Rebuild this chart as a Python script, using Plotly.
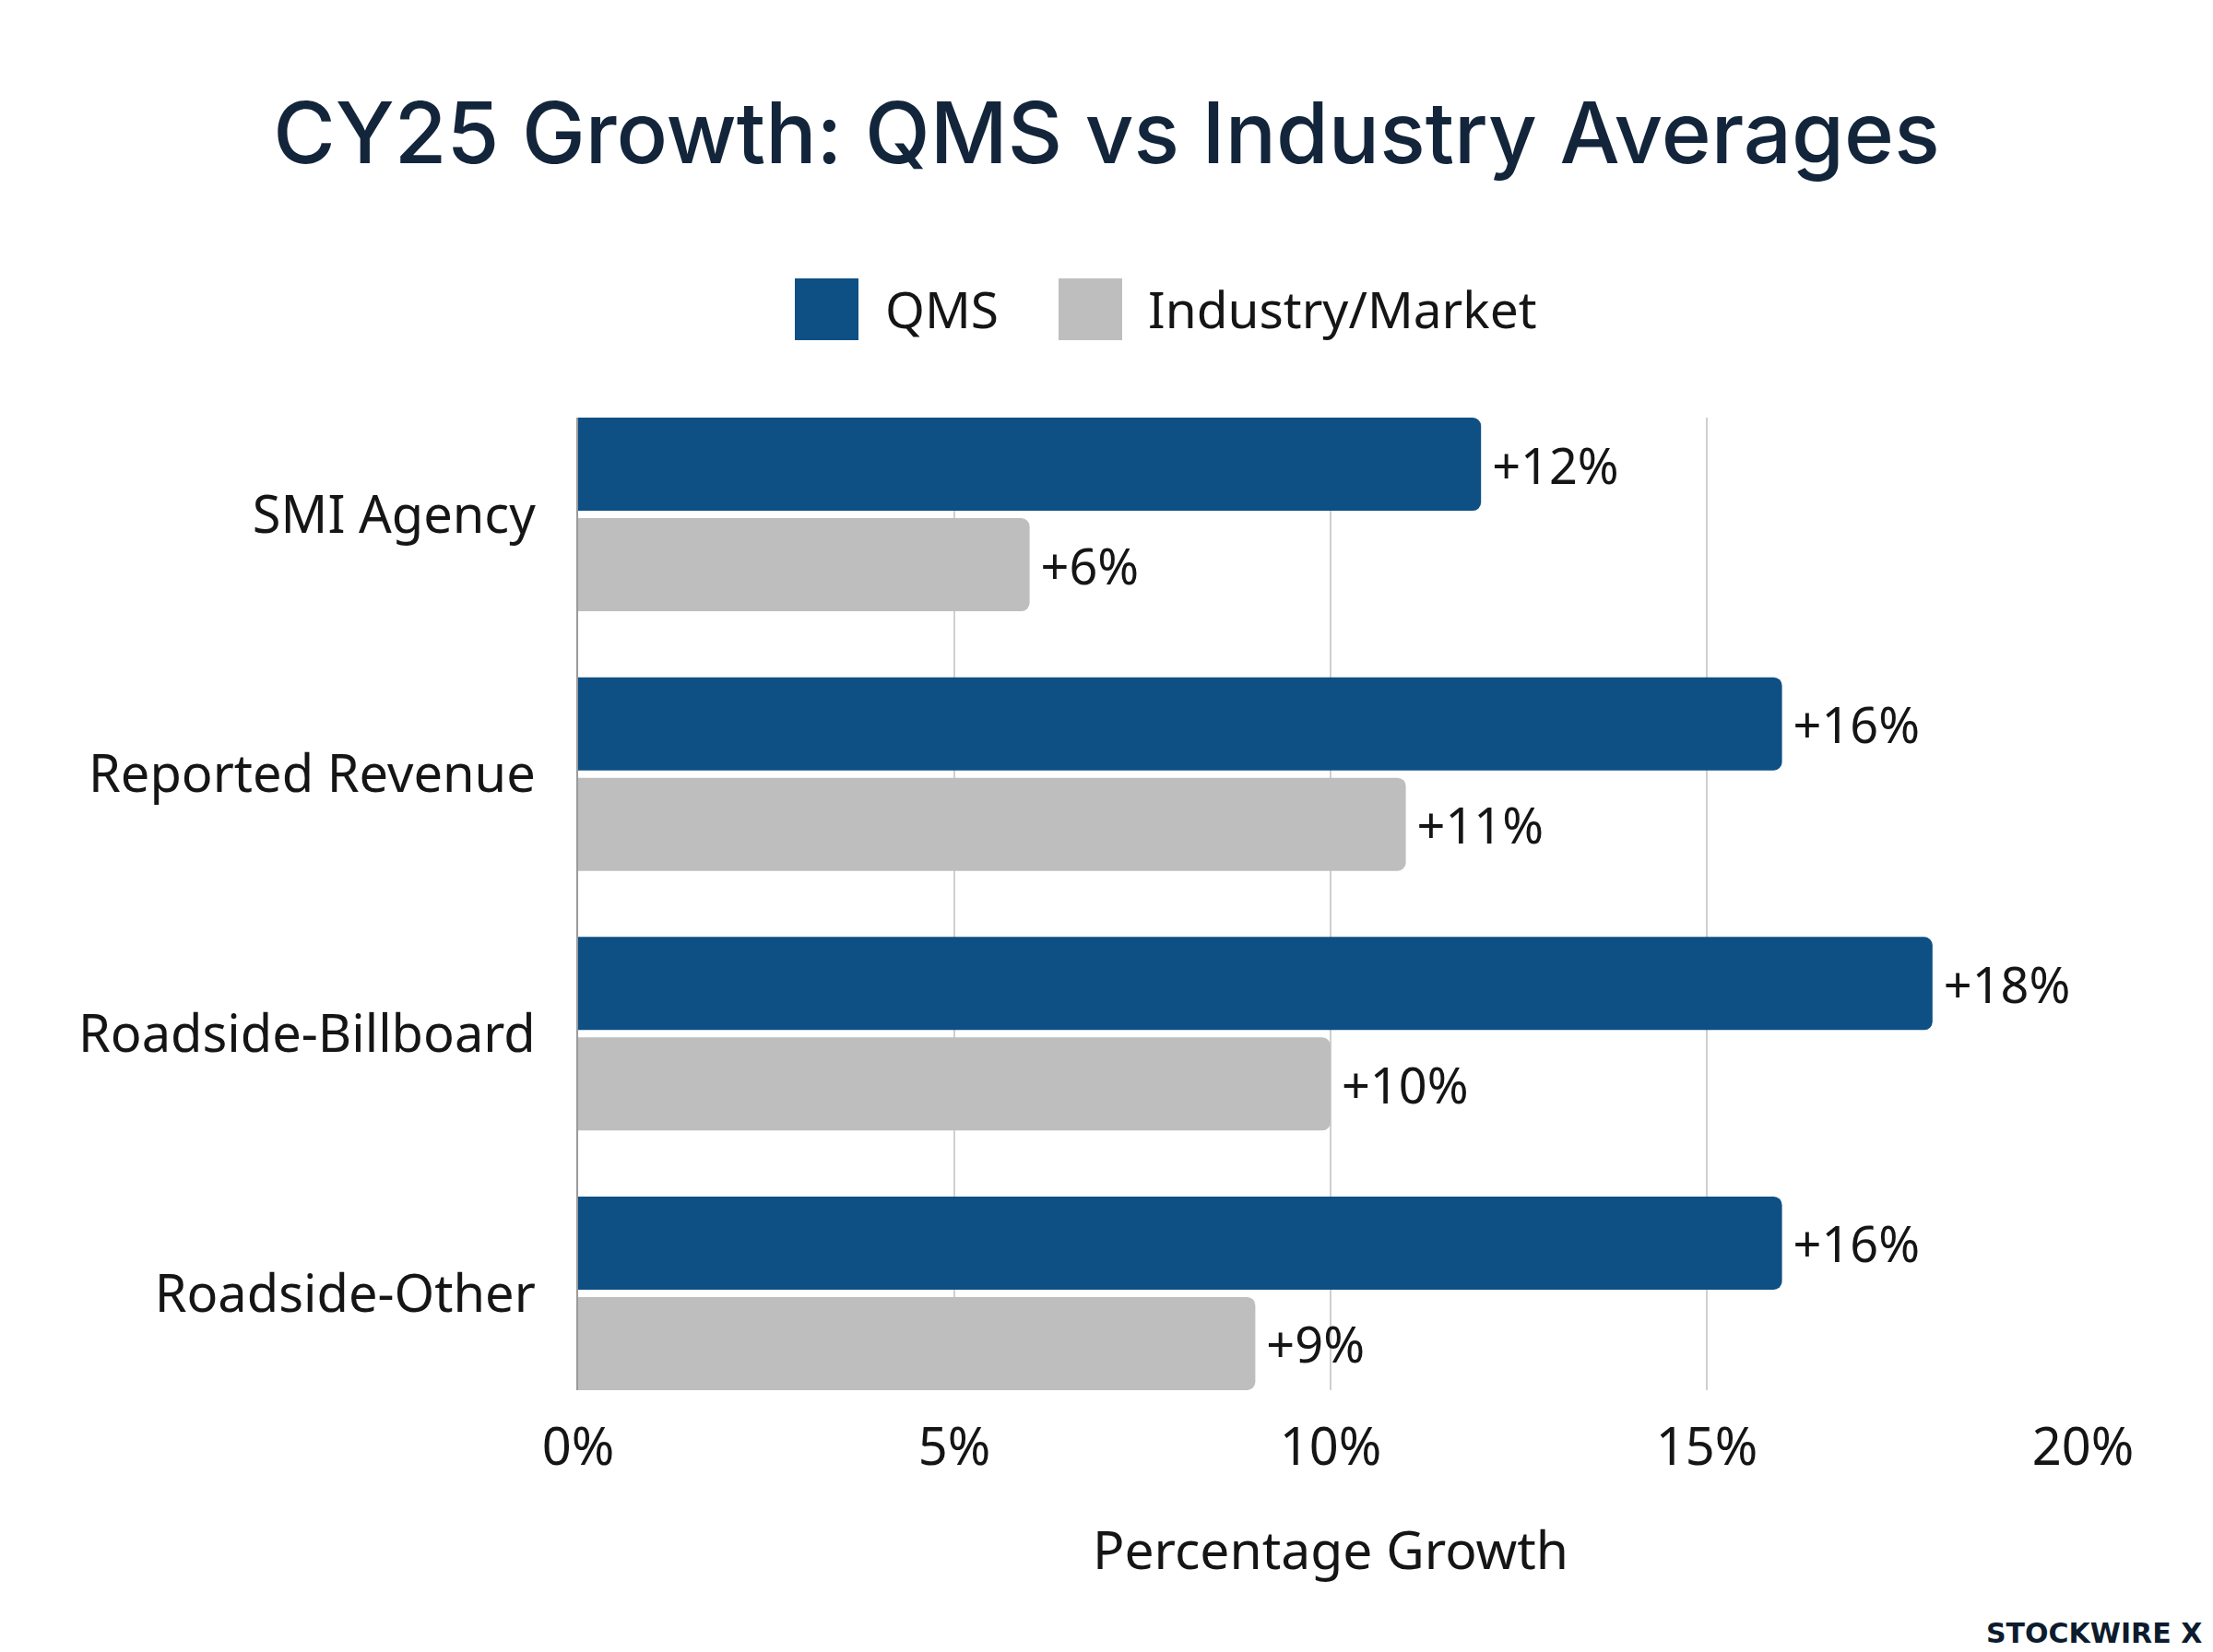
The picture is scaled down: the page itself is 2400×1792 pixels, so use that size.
import plotly.graph_objects as go

categories = ["SMI Agency", "Reported Revenue", "Roadside-Billboard", "Roadside-Other"]
qms_values = [12, 16, 18, 16]
industry_values = [6, 11, 10, 9]
series_names = ["QMS", "Industry/Market"]
x_tick_values = [0, 5, 10, 15, 20]
x_tick_labels = ["0%", "5%", "10%", "15%", "20%"]

BLUE = "#0E4F84"
GREY = "#BEBEBE"
TEXT = "#151515"
FONT = "Noto Sans"

fig = go.Figure()
for name, vals, col in [(series_names[0], qms_values, BLUE), (series_names[1], industry_values, GREY)]:
    fig.add_trace(go.Bar(
        y=categories, x=vals, name=name, orientation="h",
        marker=dict(color=col, line=dict(width=0), cornerradius=9),
        text=[f"\u2009+{v}%" for v in vals], textposition="outside",
        textfont=dict(family=FONT, size=54, color=TEXT),
        cliponaxis=False, showlegend=False,
    ))

fig.update_layout(
    width=2400, height=1792,
    paper_bgcolor="white", plot_bgcolor="white",
    margin=dict(l=627, r=141, t=453, b=284),
    barmode="group", bargap=0.226, bargroupgap=0.073,
    title=dict(text="CY25 Growth: QMS vs Industry Averages", x=0.5, xanchor="center",
               y=1 - 145 / 1792, yanchor="middle",
               font=dict(family="Inter", size=92, color="#13253A", weight=500)),
    xaxis=dict(range=[0, 20], tickvals=x_tick_values, ticktext=x_tick_labels,
               showgrid=True, gridcolor="#CFCFCF", gridwidth=2, zeroline=False,
               showline=False, ticks="", ticklabelstandoff=24,
               tickfont=dict(family=FONT, size=56, color=TEXT),
               title=dict(text="Percentage Growth", standoff=58,
                          font=dict(family=FONT, size=57, color=TEXT))),
    yaxis=dict(range=[3.373, -0.373], showgrid=False, showline=True, linecolor="#9A9A9A",
               linewidth=2, ticks="", ticklabelstandoff=33,
               tickfont=dict(family=FONT, size=56, color=TEXT)),
)

# legend drawn manually
legend_items = [(862, 931, BLUE, 958, series_names[0]), (1148, 1217, GREY, 1243, series_names[1])]
for x0, x1, col, tx, label in legend_items:
    fig.add_shape(type="rect", xref="paper", yref="paper",
                  x0=(x0 - 627) / 1632, x1=(x1 - 627) / 1632,
                  y0=(1508 - 369) / 1055, y1=(1508 - 302) / 1055,
                  fillcolor=col, line=dict(width=0))
    fig.add_annotation(xref="paper", yref="paper", x=(tx - 627) / 1632, y=(1508 - 335) / 1055,
                       xanchor="left", yanchor="middle", text=label, showarrow=False,
                       font=dict(family=FONT, size=55, color=TEXT))

fig.add_annotation(xref="paper", yref="paper", x=(2390 - 627) / 1632, y=(1508 - 1771) / 1055,
                   xanchor="right", yanchor="middle", text="<b>STOCKWIRE X</b>", showarrow=False,
                   font=dict(family="DejaVu Sans", size=30, color="#0D1B2E"))

fig.write_html("out.html")
